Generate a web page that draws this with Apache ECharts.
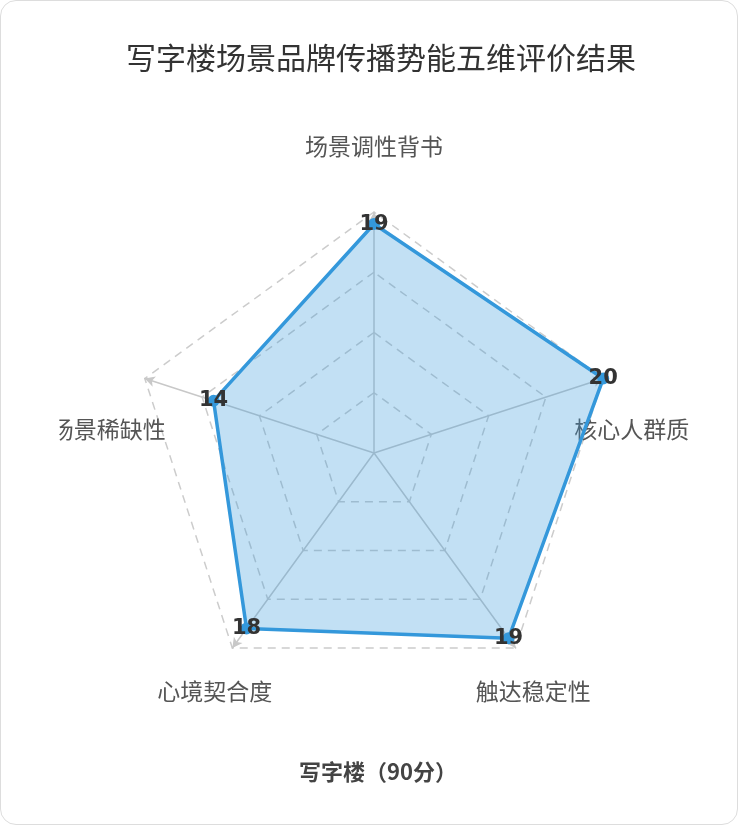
<!DOCTYPE html>
<html>
<head>
<meta charset="utf-8">
<script src="https://cdn.jsdelivr.net/npm/echarts@6/dist/echarts.min.js"></script>
<style>
  html, body { margin: 0; padding: 0; background: #fff; }
  .card {
    position: absolute; left: 0; top: 0;
    width: 736px; height: 823px;
    border: 1px solid #ddd; border-radius: 16px;
    background: #fff;
  }
  /* 画布从 58px 开始，左侧名称会被裁掉一点 */
  #chart { position: absolute; left: 58px; top: 0; width: 644px; height: 823px; }
</style>
</head>
<body>
<div class="card"><div id="chart"></div></div>
<script>
  // 指标顺序按 ECharts 逆时针排布：顶部、左、左下、右下、右
  const indicatorNames = ['场景调性背书', '场景稀缺性', '心境契合度', '触达稳定性', '核心人群质']
  const indicatorMax = [20, 20, 20, 20, 20]
  const scores = [19, 14, 18, 19, 20]
  const seriesName = '写字楼'

  const total = scores.reduce((a, b) => a + b, 0)
  const chart = echarts.init(document.getElementById('chart'))

  // 每个方向的名称用不同的 rich 样式做偏移
  const nameKey = ['top', 'left', 'bottom', 'bottom', 'right']

  const option = {
    title: [
      {
        text: '写字楼场景品牌传播势能五维评价结果',
        left: 'center',
        top: 37,
        textStyle: { fontSize: 30, fontWeight: 'normal', color: '#333', fontFamily: 'Noto Sans CJK SC' }
      },
      {
        text: seriesName + '（' + total + '分）',
        left: 314,
        textAlign: 'center',
        top: 755,
        textStyle: { fontSize: 22, fontWeight: 'bold', color: '#444', fontFamily: 'Noto Sans CJK SC' }
      }
    ],
    radar: {
      center: [315, 452],
      radius: 241,
      splitNumber: 4,
      startAngle: 90,
      indicator: indicatorNames.map((n, i) => ({ name: n, max: indicatorMax[i] })),
      nameGap: 30,
      axisName: {
        color: '#555',
        fontSize: 23,
        fontFamily: 'Noto Sans CJK SC',
        align: 'center',
        verticalAlign: 'middle',
        formatter: (name) => {
          const i = indicatorNames.indexOf(name)
          return '{' + nameKey[i] + '|' + name + '}'
        },
        rich: {
          top: { fontSize: 23, color: '#555', padding: [0, 0, 72, 0] },
          left: { fontSize: 23, color: '#555', padding: [120, 16, 0, 0] },
          right: { fontSize: 23, color: '#555', padding: [120, 0, 0, 0] },
          bottom: { fontSize: 23, color: '#555', padding: [38, 0, 0, 0] }
        }
      },
      axisLine: {
        symbol: ['none', 'arrow'],
        symbolSize: [8, 10],
        lineStyle: { color: '#c8c8c8', width: 1.5 }
      },
      splitLine: { lineStyle: { color: '#ccc', type: [8, 6], width: 1.5 } },
      splitArea: { show: false }
    },
    series: [{
      name: seriesName,
      type: 'radar',
      symbol: 'circle',
      symbolSize: 12,
      data: [{ value: scores, name: seriesName }],
      itemStyle: { color: '#3498db' },
      lineStyle: { color: '#3498db', width: 3.5 },
      areaStyle: { color: '#3498db', opacity: 0.3 },
      label: {
        show: true,
        position: 'inside',
        color: '#333',
        fontSize: 21,
        fontWeight: 'bold',
        fontFamily: 'DejaVu Sans'
      }
    }]
  }
  chart.setOption(option)
</script>
</body>
</html>
